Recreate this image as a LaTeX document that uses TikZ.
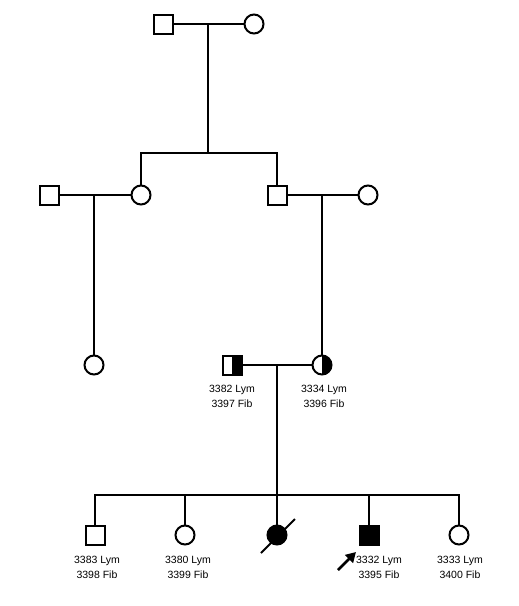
\documentclass[tikz,border=0pt]{standalone}
\usepackage{fontspec}
\setsansfont{Liberation Sans}
\usetikzlibrary{arrows.meta,positioning,calc}

\tikzset{
  male/.style={draw, rectangle, minimum size=19pt, inner sep=0pt},
  female/.style={draw, circle, minimum size=19pt, inner sep=0pt},
  affected/.style={fill=black},
  carrier/.style={path picture={\fill[black] (path picture bounding box.north) rectangle (path picture bounding box.south east);}},
  lab/.style={font=\sffamily\fontsize{10.5}{15}\selectfont, align=center, inner sep=0pt},
}

\begin{document}
\begin{tikzpicture}[x=1pt, y=-1pt, line width=2pt]
    \useasboundingbox (0,0) rectangle (519,606);

    % grandparents
    \node[male]   (g1m) at (163,24) {};
    \node[female] (g1f) at (254,24) {};
    \coordinate (j1) at (208,24);
    \draw (g1m) -- (g1f);

    % second generation
    \node[male]   (g2m1) at (49,195) {};
    \node[female] (g2f1) at (141,195) {};
    \node[male]   (g2m2) at (277,195) {};
    \node[female] (g2f2) at (368,195) {};
    \coordinate (s1l) at (141,153);
    \coordinate (s1r) at (277,153);
    \coordinate (s1c) at (208,153);
    \draw (j1) -- (s1c);
    \draw (g2f1.north) -- (s1l) -- (s1r) -- (g2m2.north);
    \draw (g2m1) -- (g2f1);
    \draw (g2m2) -- (g2f2);
    \coordinate (j2) at (94,195);
    \coordinate (j3) at (322,195);

    % third generation
    \node[female] (g3f1) at (94,365) {};
    \node[male, carrier]   (g3m2) at (232,365) {};
    \node[female, carrier] (g3f2) at (322,365) {};
    \draw (j2) -- (g3f1.north);
    \draw (j3) -- (g3f2.north);
    \draw (g3m2) -- (g3f2);
    \node[lab] (l32) at (232,396) {3382 Lym\\3397 Fib};
    \node[lab] (l33) at (324,396) {3334 Lym\\3396 Fib};

    % children
    \coordinate (j4) at (277,365);
    \node[male]             (c1) at (95,535) {};
    \node[female]           (c2) at (185,535) {};
    \node[female, affected] (c3) at (277,535) {};
    \node[male, affected]   (c4) at (369,535) {};
    \node[female]           (c5) at (459,535) {};
    \coordinate (s2l) at (95,495);
    \coordinate (s2r) at (459,495);
    \draw (j4) -- (c3.north);
    \draw (c1.north) -- (s2l) -- (s2r) -- (c5.north);
    \draw (c2.north) -- (c2.north |- s2l);
    \draw (c4.north) -- (c4.north |- s2l);

    % deceased
    \coordinate (d1) at (261,553);
    \coordinate (d2) at (295,519);
    \draw (d1) -- (d2);

    % proband
    \coordinate (pa) at (338,570);
    \coordinate (pb) at (356,552);
    \draw[line width=2.5pt, -{Triangle[length=10pt,width=11pt]}] (pa) -- (pb);

    \node[lab] (l1) at (97,567)  {3383 Lym\\3398 Fib};
    \node[lab] (l2) at (188,567) {3380 Lym\\3399 Fib};
    \node[lab] (l4) at (379,567) {3332 Lym\\3395 Fib};
    \node[lab] (l5) at (460,567) {3333 Lym\\3400 Fib};
\end{tikzpicture}
\end{document}
